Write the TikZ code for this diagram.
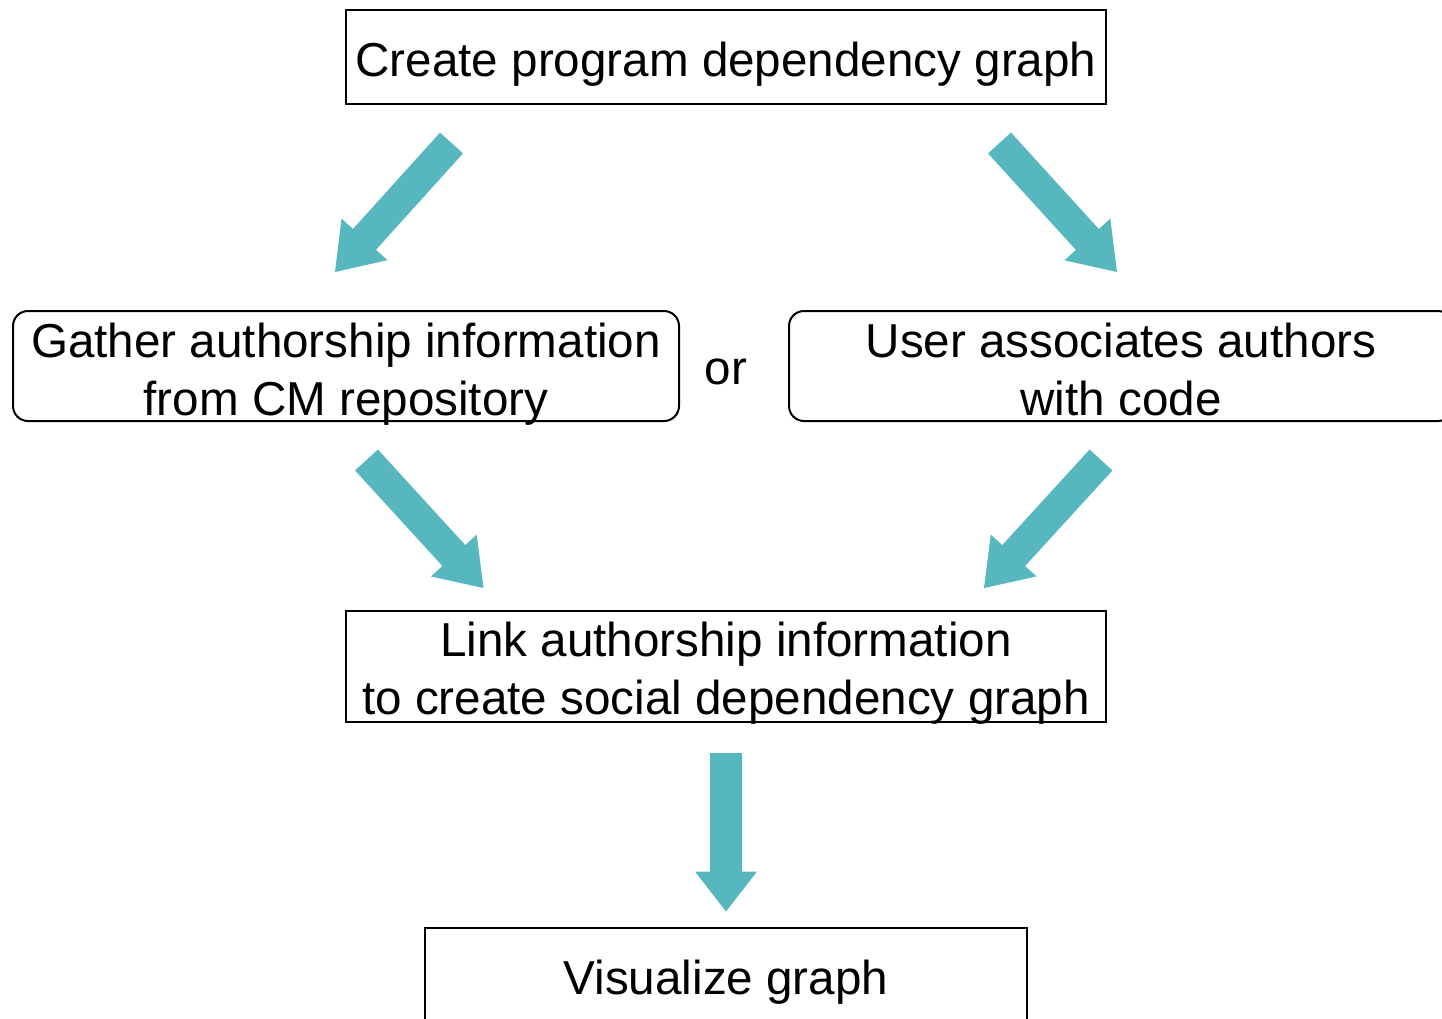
\documentclass[tikz,border=0pt]{standalone}
\usepackage{fontspec}
\setmainfont{Liberation Sans}
\usetikzlibrary{calc}
\definecolor{arrowteal}{RGB}{87,183,190}
\tikzset{
  box/.style={draw=black, line width=2pt, inner sep=0pt, font=\fontsize{47.6}{58}\selectfont, text=black},
  roundbox/.style={box, rounded corners=15pt},
  plaintext/.style={inner sep=0pt, font=\fontsize{47.6}{58}\selectfont, text=black},
  arrowfill/.style={fill=arrowteal, draw=none}
}
\newcommand{\blockarrow}[6]{%
  % #1 name, #2 tail, #3 tip, #4 half shaft, #5 half head, #6 head length
  \coordinate (#1h) at ($(#3)!#6!(#2)$);
  \fill[arrowfill] ($(#2)!#4!90:(#3)$) -- ($(#1h)!#4!-90:(#2)$) -- ($(#1h)!#5!-90:(#2)$)
    -- (#3) -- ($(#1h)!#5!90:(#2)$) -- ($(#1h)!#4!90:(#2)$) -- ($(#2)!#4!-90:(#3)$) -- cycle;
}
\begin{document}
\begin{tikzpicture}[x=1pt,y=-1pt]
\path[use as bounding box] (0,0) rectangle (1442,1018);
\clip (0,0) rectangle (1442,1018);

% boxes
\node[box, minimum width=760pt, minimum height=94pt, text height=38pt, text depth=0pt]
  (create) at (726,57) {Create program dependency graph};
\node[roundbox, minimum width=666pt, minimum height=110pt, text height=20pt, text depth=38pt]
  (gather) at (346,366) {\begin{tabular}[t]{@{}c@{}}Gather authorship information\\from CM repository\end{tabular}};
\node[roundbox, minimum width=664pt, minimum height=110pt, text height=20pt, text depth=38pt]
  (user) at (1121,366) {\begin{tabular}[t]{@{}c@{}}User associates authors\\with code\end{tabular}};
\node[plaintext, anchor=base] (or) at (726,384) {or};
\node[box, minimum width=760pt, minimum height=111pt, text height=20pt, text depth=41pt]
  (link) at (726,666.5) {\begin{tabular}[t]{@{}c@{}}Link authorship information\\to create social dependency graph\end{tabular}};
\node[box, minimum width=602pt, minimum height=94pt, text height=38pt, text depth=0pt]
  (vis) at (726,975) {Visualize graph};

% arrows
\coordinate (a1s) at (451.5,143); \coordinate (a1e) at (335,272);
\coordinate (a2s) at (999.5,143); \coordinate (a2e) at (1117,272);
\coordinate (a3s) at (366.5,460); \coordinate (a3e) at (483.5,588);
\coordinate (a4s) at (1101,460);  \coordinate (a4e) at (984,588);
\coordinate (a5s) at (726,753);   \coordinate (a5e) at (726,911.5);
\blockarrow{a1}{a1s}{a1e}{15.5pt}{31pt}{44pt}
\blockarrow{a2}{a2s}{a2e}{15.5pt}{31pt}{44pt}
\blockarrow{a3}{a3s}{a3e}{15.5pt}{31pt}{44pt}
\blockarrow{a4}{a4s}{a4e}{15.5pt}{31pt}{44pt}
\blockarrow{a5}{a5s}{a5e}{16pt}{31pt}{40pt}
\end{tikzpicture}
\end{document}
